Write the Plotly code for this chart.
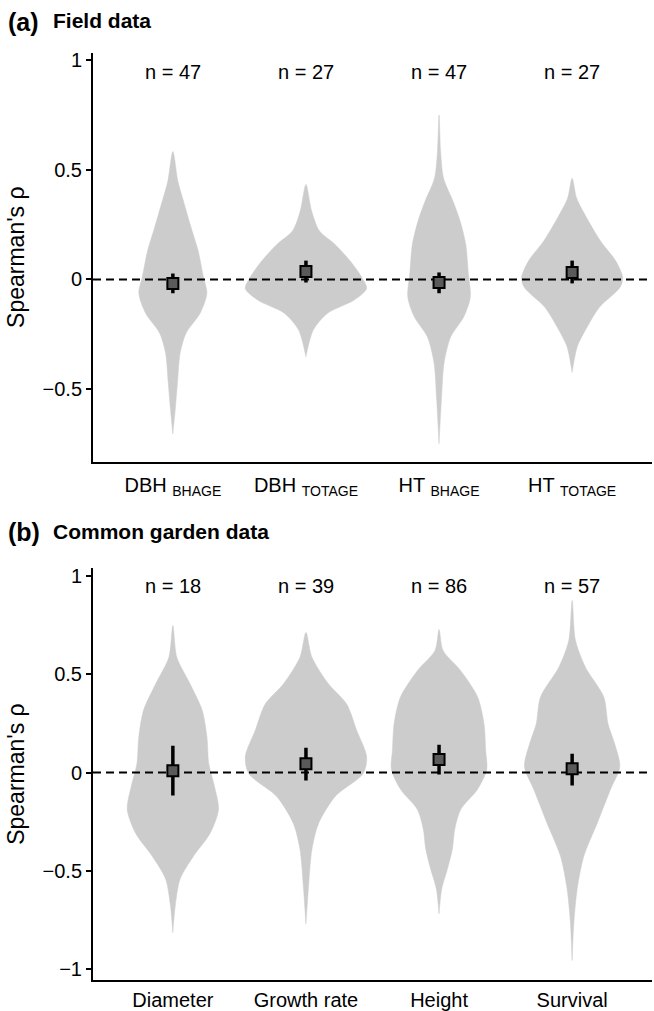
import plotly.graph_objects as go

FONT = "Liberation Sans, Arial, sans-serif"

# ---------------- data ----------------
cats_a = ["DBH <sub>BHAGE</sub>", "DBH <sub>TOTAGE</sub>", "HT <sub>BHAGE</sub>", "HT <sub>TOTAGE</sub>"]
n_a = [47, 27, 47, 27]
mean_a = [-0.018, 0.036, -0.014, 0.032]
lo_a = [-0.063, -0.014, -0.063, -0.018]
hi_a = [0.027, 0.086, 0.032, 0.086]

cats_b = ["Diameter", "Growth rate", "Height", "Survival"]
n_b = [18, 39, 86, 57]
mean_b = [0.010, 0.045, 0.066, 0.020]
lo_b = [-0.116, -0.040, -0.010, -0.066]
hi_b = [0.136, 0.126, 0.141, 0.096]

# violin density profiles: y knots (rho) and half widths (category units)
va1_y = [0.584, 0.448, 0.357, 0.235, 0.131, 0.010, -0.063, -0.154, -0.244, -0.335, -0.470, -0.593, -0.706]
va1_w = [0.0, 0.038, 0.080, 0.138, 0.190, 0.230, 0.256, 0.205, 0.100, 0.055, 0.035, 0.018, 0.0]
va2_y = [0.434, 0.312, 0.222, 0.163, 0.086, 0.009, -0.041, -0.095, -0.154, -0.231, -0.353]
va2_w = [0.0, 0.043, 0.100, 0.213, 0.330, 0.420, 0.456, 0.360, 0.163, 0.055, 0.0]
va3_y = [0.751, 0.584, 0.462, 0.357, 0.267, 0.163, 0.027, -0.081, -0.172, -0.262, -0.380, -0.548, -0.751]
va3_w = [0.0, 0.012, 0.034, 0.105, 0.158, 0.200, 0.220, 0.235, 0.185, 0.088, 0.038, 0.018, 0.0]
va4_y = [0.462, 0.371, 0.281, 0.176, 0.086, 0.009, -0.036, -0.127, -0.217, -0.308, -0.425]
va4_w = [0.0, 0.034, 0.110, 0.213, 0.326, 0.380, 0.360, 0.205, 0.113, 0.038, 0.0]

vb1_y = [0.747, 0.586, 0.450, 0.318, 0.182, 0.045, -0.070, -0.187, -0.308, -0.424, -0.540, -0.677, -0.813]
vb1_w = [0.0, 0.030, 0.130, 0.220, 0.256, 0.270, 0.313, 0.343, 0.280, 0.156, 0.055, 0.018, 0.0]
vb2_y = [0.712, 0.586, 0.450, 0.348, 0.217, 0.081, -0.005, -0.121, -0.258, -0.389, -0.591, -0.768]
vb2_w = [0.0, 0.045, 0.170, 0.306, 0.380, 0.456, 0.430, 0.220, 0.095, 0.045, 0.018, 0.0]
vb3_y = [0.727, 0.621, 0.520, 0.384, 0.247, 0.116, 0.015, -0.086, -0.187, -0.288, -0.389, -0.490, -0.591, -0.717]
vb3_w = [0.0, 0.030, 0.160, 0.290, 0.338, 0.350, 0.358, 0.288, 0.163, 0.118, 0.100, 0.063, 0.020, 0.0]
vb4_y = [0.874, 0.672, 0.535, 0.384, 0.247, 0.146, 0.030, -0.086, -0.258, -0.424, -0.591, -0.763, -0.955]
vb4_w = [0.0, 0.025, 0.100, 0.238, 0.270, 0.320, 0.358, 0.288, 0.188, 0.088, 0.038, 0.013, 0.0]

yticks_a = [1, 0.5, 0, -0.5]
yticks_b = [1, 0.5, 0, -0.5, -1]

violins_a = [(va1_y, va1_w), (va2_y, va2_w), (va3_y, va3_w), (va4_y, va4_w)]
violins_b = [(vb1_y, vb1_w), (vb2_y, vb2_w), (vb3_y, vb3_w), (vb4_y, vb4_w)]

fig = go.Figure()

def add_panel(violins, means, los, his, xa, ya):
    for i, (ys, ws) in enumerate(violins):
        c = i + 1
        xs = [c + w for w in ws] + [c - w for w in reversed(ws)]
        yy = list(ys) + list(reversed(ys))
        fig.add_trace(go.Scatter(x=xs, y=yy, mode="lines", fill="toself",
                                 fillcolor="#cccccc", line=dict(color="#cccccc", width=0.5, shape="spline", smoothing=0.8),
                                 hoverinfo="skip", showlegend=False, xaxis=xa, yaxis=ya))
    # zero line
    fig.add_trace(go.Scatter(x=[0.4, 4.6], y=[0, 0], mode="lines",
                             line=dict(color="black", width=2, dash="8px,5px"),
                             showlegend=False, hoverinfo="skip", xaxis=xa, yaxis=ya))
    xs = [i + 1 for i in range(len(means))]
    for x, lo, hi in zip(xs, los, his):
        fig.add_trace(go.Scatter(x=[x, x], y=[lo, hi], mode="lines",
                                 line=dict(color="black", width=3.5),
                                 showlegend=False, hoverinfo="skip", xaxis=xa, yaxis=ya))
    fig.add_trace(go.Scatter(x=xs, y=means, mode="markers",
                             marker=dict(symbol="square", size=11, color="#5a5a5a",
                                         line=dict(color="black", width=2)),
                             showlegend=False, xaxis=xa, yaxis=ya))

add_panel(violins_a, mean_a, lo_a, hi_a, "x", "y")
add_panel(violins_b, mean_b, lo_b, hi_b, "x2", "y2")

W, H = 654, 1011

def fx(px):
    return px / W

def fy(py):
    return 1 - py / H

xdom = [fx(93), fx(652)]
ydom_a = [fy(463), fy(50)]
ydom_b = [fy(986), fy(570)]

axis_common = dict(showline=True, linecolor="black", linewidth=2, showgrid=False, zeroline=False,
                   tickfont=dict(family=FONT, size=20, color="black"))

def ttext(vals):
    return [("\u2212" + str(abs(v))) if v < 0 else str(v) for v in vals]

fig.update_layout(
    width=W, height=H, margin=dict(l=0, r=0, t=0, b=0),
    paper_bgcolor="white", plot_bgcolor="white",
    font=dict(family=FONT, color="black"),
    xaxis=dict(domain=xdom, range=[0.4, 4.6], anchor="y", tickvals=[1, 2, 3, 4], ticktext=cats_a,
               ticks="", ticklabelstandoff=4, **axis_common),
    yaxis=dict(domain=ydom_a, range=[-0.833, 1.036], anchor="x", tickvals=yticks_a, ticktext=ttext(yticks_a),
               ticks="outside", ticklen=5, tickwidth=1.5, tickcolor="black",
               title=dict(text="Spearman's ρ", font=dict(family=FONT, size=23), standoff=11),
               **axis_common),
    xaxis2=dict(domain=xdom, range=[0.4, 4.6], anchor="y2", tickvals=[1, 2, 3, 4], ticktext=cats_b,
                ticks="", ticklabelstandoff=1, **axis_common),
    yaxis2=dict(domain=ydom_b, range=[-1.055, 1.040], anchor="x2", tickvals=yticks_b, ticktext=ttext(yticks_b),
                ticks="outside", ticklen=5, tickwidth=1.5, tickcolor="black",
                title=dict(text="Spearman's ρ", font=dict(family=FONT, size=23), standoff=11),
                **axis_common),
)

ann = []
for i, n in enumerate(n_a):
    ann.append(dict(x=i + 1, y=0.946, xref="x", yref="y", text=f"n = {n}", showarrow=False,
                    font=dict(family=FONT, size=20, color="black")))
for i, n in enumerate(n_b):
    ann.append(dict(x=i + 1, y=0.95, xref="x2", yref="y2", text=f"n = {n}", showarrow=False,
                    font=dict(family=FONT, size=20, color="black")))
ann.append(dict(x=fx(6), y=fy(19), xref="paper", yref="paper", xanchor="left", yanchor="middle",
                text="<b>(a)</b>", showarrow=False, font=dict(family=FONT, size=25, color="black")))
ann.append(dict(x=fx(51), y=fy(18), xref="paper", yref="paper", xanchor="left", yanchor="middle",
                text="<b>Field data</b>", showarrow=False, font=dict(family=FONT, size=21, color="black")))
ann.append(dict(x=fx(6), y=fy(534), xref="paper", yref="paper", xanchor="left", yanchor="middle",
                text="<b>(b)</b>", showarrow=False, font=dict(family=FONT, size=25, color="black")))
ann.append(dict(x=fx(51), y=fy(533), xref="paper", yref="paper", xanchor="left", yanchor="middle",
                text="<b>Common garden data</b>", showarrow=False, font=dict(family=FONT, size=21, color="black")))
fig.update_layout(annotations=ann)

fig.write_html("out.html", config={"displayModeBar": False},
               post_script="document.body.style.margin='0';document.body.style.overflow='hidden';")
